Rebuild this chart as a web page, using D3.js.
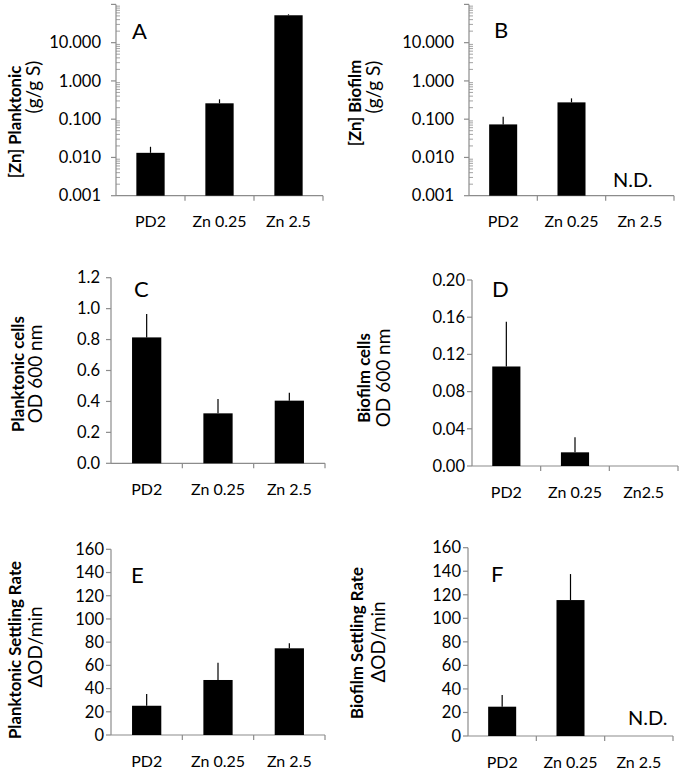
<!DOCTYPE html>
<html>
<head>
<meta charset="utf-8">
<script src="https://cdn.jsdelivr.net/npm/d3@7"></script>
<style>
  html, body { margin: 0; padding: 0; background: #fff; }
  svg { display: block; }
  text { font-family: Lato, "Open Sans", sans-serif; fill: #000; }
</style>
</head>
<body>
<svg id="chart" width="681" height="771"></svg>
<script>
// ---- Data ----
const categories = ["PD2", "Zn 0.25", "Zn 2.5"];
const categoriesD = ["PD2", "Zn 0.25", "Zn2.5"];

// A: [Zn] Planktonic (g/g S), log scale
const zincPlanktonic = [0.0132, 0.26, 52];
const zincPlanktonicErr = [0.0058, 0.07, 3];
// B: [Zn] Biofilm (g/g S), log scale (Zn 2.5 not determined)
const zincBiofilm = [0.073, 0.275, null];
const zincBiofilmErr = [0.042, 0.075, null];
// C: Planktonic cells OD 600 nm
const planktonicCells = [0.814, 0.323, 0.405];
const planktonicCellsErr = [0.152, 0.093, 0.051];
// D: Biofilm cells OD 600 nm
const biofilmCells = [0.107, 0.0147, 0];
const biofilmCellsErr = [0.048, 0.0162, 0];
// E: Planktonic settling rate
const planktonicSettling = [25.2, 47.4, 74.7];
const planktonicSettlingErr = [10.1, 14.9, 4.3];
// F: Biofilm settling rate (Zn 2.5 not determined)
const biofilmSettling = [24.9, 115.5, null];
const biofilmSettlingErr = [9.9, 22.1, null];

const logTicks = [0.001, 0.01, 0.1, 1, 10];
const ticksC = [0, 0.2, 0.4, 0.6, 0.8, 1.0, 1.2];
const ticksD = [0, 0.04, 0.08, 0.12, 0.16, 0.20];
const ticksEF = [0, 20, 40, 60, 80, 100, 120, 140, 160];

// ---- Layout / panels ----
const panels = [
  { letter: "A", cats: categories, vals: zincPlanktonic, errs: zincPlanktonicErr, log: true,
    domain: [0.001, 100], ticks: logTicks, fmt: d3.format(".3f"),
    x0: 116, x1: 323, yb: 195.7, yt: 4.4, labGap: 15,
    title: "[Zn] Planktonic", tx: 15, ty: 122, sub: "(g/g S)", sx: 33, sy: 87,
    lx: 132, ly: 39 },
  { letter: "B", cats: categories, vals: zincBiofilm, errs: zincBiofilmErr, log: true,
    domain: [0.001, 100], ticks: logTicks, fmt: d3.format(".3f"),
    x0: 469, x1: 674, yb: 195.7, yt: 4.4, labGap: 15,
    title: "[Zn] Biofilm", tx: 355, ty: 103, sub: "(g/g S)", sx: 373, sy: 87,
    lx: 494, ly: 38, nd: { x: 613, y: 187 } },
  { letter: "C", cats: categories, vals: planktonicCells, errs: planktonicCellsErr, log: false,
    domain: [0, 1.2], ticks: ticksC, fmt: d3.format(".1f"),
    x0: 111, x1: 325, yb: 463.3, yt: 277.7, labGap: 11,
    title: "Planktonic cells", tx: 18, ty: 374, sub: "OD 600 nm", sx: 35, sy: 374,
    lx: 134, ly: 297 },
  { letter: "D", cats: categoriesD, vals: biofilmCells, errs: biofilmCellsErr, log: false,
    domain: [0, 0.2], ticks: ticksD, fmt: d3.format(".2f"),
    x0: 472, x1: 678, yb: 466, yt: 280, labGap: 7,
    title: "Biofilm cells", tx: 364, ty: 378, sub: "OD 600 nm", sx: 383, sy: 378,
    lx: 492, ly: 297 },
  { letter: "E", cats: categories, vals: planktonicSettling, errs: planktonicSettlingErr, log: false,
    domain: [0, 160], ticks: ticksEF, fmt: d3.format("d"),
    x0: 111, x1: 325, yb: 735, yt: 549.3, labGap: 7,
    title: "Planktonic Settling Rate", tx: 15, ty: 650, sub: "\u0394OD/min", sx: 35, sy: 647,
    lx: 131, ly: 583 },
  { letter: "F", cats: categories, vals: biofilmSettling, errs: biofilmSettlingErr, log: false,
    domain: [0, 160], ticks: ticksEF, fmt: d3.format("d"),
    x0: 468, x1: 673, yb: 736, yt: 547.7, labGap: 7,
    title: "Biofilm Settling Rate", tx: 357, ty: 643, sub: "\u0394OD/min", sx: 378, sy: 642,
    lx: 491, ly: 582, nd: { x: 628, y: 725 } }
];

const svg = d3.select("#chart");
const axisColor = "#8c8c8c";

panels.forEach(p => {
  const g = svg.append("g");
  const x = d3.scaleBand().domain(p.cats).range([p.x0, p.x1]).paddingInner(0.59).paddingOuter(0.295);
  const y = (p.log ? d3.scaleLog() : d3.scaleLinear()).domain(p.domain).range([p.yb, p.yt]);
  const step = (p.x1 - p.x0) / p.cats.length;

  // y axis line
  g.append("line").attr("x1", p.x0).attr("x2", p.x0).attr("y1", p.yt).attr("y2", p.yb)
    .attr("stroke", axisColor).attr("stroke-width", 1.2);
  // major ticks + labels
  const allTicks = p.log ? p.ticks.concat([100]) : p.ticks;
  allTicks.forEach(t => {
    g.append("line").attr("x1", p.x0 - 5).attr("x2", p.x0).attr("y1", y(t)).attr("y2", y(t))
      .attr("stroke", axisColor).attr("stroke-width", 1.2);
  });
  p.ticks.forEach(t => {
    g.append("text").attr("x", p.x0 - p.labGap).attr("y", y(t)).attr("dy", "0.35em")
      .attr("text-anchor", "end").attr("font-size", 16.5).text(p.fmt(t));
  });
  // minor log ticks
  if (p.log) {
    [0.001, 0.01, 0.1, 1, 10].forEach(dec => {
      for (let m = 2; m <= 9; m++) {
        const v = dec * m;
        g.append("line").attr("x1", p.x0).attr("x2", p.x0 + 4).attr("y1", y(v)).attr("y2", y(v))
          .attr("stroke", axisColor).attr("stroke-width", 0.8);
      }
    });
  }
  // x axis line
  g.append("line").attr("x1", p.x0).attr("x2", p.x1).attr("y1", p.yb).attr("y2", p.yb)
    .attr("stroke", axisColor).attr("stroke-width", 1.2);
  for (let i = 1; i <= p.cats.length; i++) {
    const xx = p.x0 + step * i;
    g.append("line").attr("x1", xx).attr("x2", xx).attr("y1", p.yb).attr("y2", p.yb + 5)
      .attr("stroke", axisColor).attr("stroke-width", 1.2);
  }
  // category labels
  p.cats.forEach(c => {
    g.append("text").attr("x", x(c) + x.bandwidth() / 2).attr("y", p.yb + 31.5)
      .attr("text-anchor", "middle").attr("font-size", 16).text(c);
  });

  // bars
  const data = p.cats.map((c, i) => ({ c, v: p.vals[i], e: p.errs[i] }))
    .filter(d => d.v !== null && d.v > 0);
  g.selectAll("rect.bar").data(data).join("rect").attr("class", "bar")
    .attr("x", d => x(d.c)).attr("width", x.bandwidth())
    .attr("y", d => y(d.v)).attr("height", d => p.yb - y(d.v))
    .attr("fill", "#000");
  // error bars (upper only)
  g.selectAll("line.err").data(data).join("line").attr("class", "err")
    .attr("x1", d => x(d.c) + x.bandwidth() / 2).attr("x2", d => x(d.c) + x.bandwidth() / 2)
    .attr("y1", d => y(d.v)).attr("y2", d => y(d.v + d.e))
    .attr("stroke", "#000").attr("stroke-width", 1.2);

  // panel letter
  g.append("text").attr("x", p.lx).attr("y", p.ly).attr("font-size", 22).text(p.letter);
  // N.D.
  if (p.nd) {
    g.append("text").attr("x", p.nd.x).attr("y", p.nd.y).attr("font-size", 20).text("N.D.");
  }
  // axis titles
  g.append("text").attr("transform", `translate(${p.tx},${p.ty}) rotate(-90)`)
    .attr("text-anchor", "middle").attr("dy", "0.35em")
    .attr("font-size", 16.8).attr("font-weight", "bold").text(p.title);
  g.append("text").attr("transform", `translate(${p.sx},${p.sy}) rotate(-90)`)
    .attr("text-anchor", "middle").attr("dy", "0.35em")
    .attr("font-size", 19).text(p.sub);
});
</script>
</body>
</html>
